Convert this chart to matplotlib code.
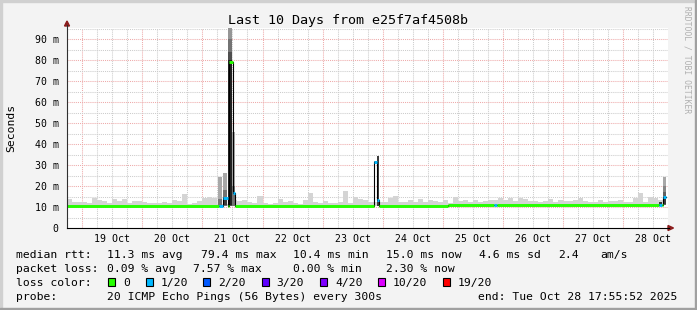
import matplotlib.pyplot as plt
from matplotlib.patches import Rectangle, Polygon
from matplotlib.lines import Line2D

W, H = 697, 310

plt.rcParams['font.family'] = 'DejaVu Sans Mono'

# time axis in hours from 19 Oct 00:00; 2 hour bins starting 18 Oct 18:00
bin_start = -6.0
bin_hours = 2.0
t_begin, t_end = -6.07, 233.93
data_end = 233.0

day_labels = ['19 Oct', '20 Oct', '21 Oct', '22 Oct', '23 Oct',
              '24 Oct', '25 Oct', '26 Oct', '27 Oct', '28 Oct']

# upper edge of the light smoke per bin (ms)
smoke_top = [
    13.8, 12.5, 12.5, 12.5, 11.7, 14.5, 13.3, 13.0, 12.0, 13.6,
    13.0, 13.6, 11.7, 13.0, 13.0, 12.5, 12.0, 11.7, 12.0, 12.3,
    11.7, 13.3, 13.0, 16.2, 11.4, 12.0, 12.8, 14.1, 14.9, 14.1,
    11.5, 11.5, 11.5, 13.3, 12.9, 13.3, 12.5, 11.7, 15.2, 11.7,
    11.4, 12.1, 13.6, 12.5, 12.9, 12.0, 11.4, 13.3, 16.8, 12.5,
    11.7, 12.9, 11.7, 12.1, 12.5, 17.8, 11.7, 14.9, 13.6, 13.3,
    12.5, 12.5, 12.5, 12.2, 14.1, 15.2, 12.5, 12.2, 13.3, 12.5,
    13.6, 12.5, 13.3, 13.0, 12.5, 13.3, 11.9, 14.9, 13.0, 13.3,
    12.5, 13.3, 12.5, 13.0, 13.3, 13.3, 14.5, 13.3, 14.5, 13.0,
    14.1, 13.8, 12.8, 12.8, 12.2, 12.8, 13.8, 12.5, 13.3, 12.8,
    12.8, 13.5, 14.1, 12.8, 12.5, 12.2, 13.3, 12.2, 12.8, 13.0,
    13.3, 12.5, 12.2, 14.3, 16.5, 12.5, 14.9, 14.1, 13.3, 13.0,
]

# median rtt per bin (ms)
median_ms = [
    10.6, 10.6, 10.6, 10.6, 10.6, 10.6, 10.6, 10.6, 10.6, 10.6,
    10.6, 10.6, 10.6, 10.6, 10.6, 10.6, 10.6, 10.6, 10.6, 10.6,
    10.6, 10.6, 10.6, 10.6, 10.6, 10.6, 10.6, 10.6, 10.6, 10.6,
    10.6, 10.6, 10.6, 10.6, 10.6, 10.6, 10.6, 10.6, 10.6, 10.6,
    10.6, 10.6, 10.6, 10.6, 10.6, 10.6, 10.6, 10.6, 10.6, 10.6,
    10.6, 10.6, 10.6, 10.6, 10.6, 10.6, 10.6, 10.6, 10.6, 10.6,
    10.6, 10.6, 10.6, 10.6, 10.6, 10.6, 10.6, 10.6, 10.6, 10.6,
    10.6, 10.6, 10.6, 10.6, 10.6, 10.6, 11.1, 11.1, 11.1, 11.1,
    11.1, 11.1, 11.1, 11.1, 11.1, 11.1, 11.1, 11.1, 11.1, 11.1,
    11.1, 11.1, 11.1, 11.1, 11.1, 11.1, 11.1, 11.1, 11.1, 11.1,
    11.1, 11.1, 11.1, 11.1, 11.1, 11.1, 11.1, 11.1, 11.1, 11.1,
    11.1, 11.1, 11.1, 11.1, 11.1, 11.1, 11.1, 11.1, 11.1, 11.1,
]

# short periods with spikes / loss (hours, ms, loss level index)
event_t0 = [54.4, 56.2, 58.4, 60.0, 116.4, 117.6, 164.4, 230.4, 231.8]
event_t1 = [56.0, 58.0, 60.0, 61.0, 117.6, 118.6, 165.6, 231.6, 233.0]
event_med = [10.5, 14.4, 79.4, 16.6, 31.6, 13.3, 11.1, 11.2, 14.9]
event_loss = [1, 1, 0, 1, 1, 1, 1, 1, 1]

# smoke layers of the events: event index, low, high, pings inside
layer_event = [0, 0, 1, 1, 1, 2, 2, 2, 2, 2, 3, 3, 4, 5, 7, 8, 8, 8, 8]
layer_lo = [10.3, 10.3, 10.3, 10.5, 10.8, 10.5, 14.0, 10.5, 10.5, 10.8,
            10.5, 10.5, 31.2, 10.5, 11.0, 11.0, 11.0, 11.2, 11.5]
layer_hi = [24.4, 14.0, 26.0, 18.0, 15.0, 100.0, 79.4, 90.0, 84.0, 80.0,
            46.0, 20.0, 32.0, 34.3, 12.5, 24.4, 20.0, 17.0, 15.0]
layer_pings = [4, 10, 4, 10, 16, 6, 8, 10, 14, 19,
               4, 10, 10, 16, 16, 4, 8, 12, 16]

loss_colors = ['#26ff00', '#00b8ff', '#0059ff', '#5e00ff',
               '#7e00ff', '#dd00ff', '#ff0000']
loss_labels = ['0', '1/20', '2/20', '3/20', '4/20', '10/20', '19/20']


def fx(x):
    return x / W


def fy(y):
    return 1 - y / H


fig = plt.figure(figsize=(W / 100, H / 100), dpi=100, facecolor='#f3f3f3')
ax = fig.add_axes([fx(67), fy(228), 601 / W, 200 / H])
ax.set_facecolor('white')
ax.set_xlim(t_begin, t_end)
ax.set_ylim(0, 95.4)
for s in ax.spines.values():
    s.set_visible(False)

# grid
dot = (0, (1, 1))
for h in range(-6, 234, 6):
    if h % 24 == 0:
        ax.axvline(h, color='#eeaaaa', lw=0.75, ls=dot, zorder=1)
    else:
        ax.axvline(h, color='#cccccc', lw=0.75, ls=dot, zorder=1)
for v in range(5, 100, 5):
    if v % 10 == 0:
        ax.axhline(v, color='#eeaaaa', lw=0.75, ls=dot, zorder=1)
    else:
        ax.axhline(v, color='#cccccc', lw=0.75, ls=dot, zorder=1)

# background smoke
starts = [bin_start + bin_hours * i for i in range(len(smoke_top))]
widths = [min(bin_hours, data_end - s) for s in starts]
ax.bar(starts, [t - m for t, m in zip(smoke_top, median_ms)], bottom=median_ms,
       width=widths, align='edge', color='#d4d4d4', linewidth=0, zorder=2)

# event smoke
for e, lo, hi, p in zip(layer_event, layer_lo, layer_hi, layer_pings):
    g = 0.8 - 0.7 * p / 20
    ax.bar(event_t0[e], hi - lo, bottom=lo, width=event_t1[e] - event_t0[e],
           align='edge', color=(g, g, g), linewidth=0, zorder=3)

# median line, built from bins with events overriding
step = 0.1
runs = []
t = t_begin
while t < data_end - 1e-9:
    tm = t + step / 2
    val, loss = None, 0
    for a, b, m, l in zip(event_t0, event_t1, event_med, event_loss):
        if a <= tm < b:
            val, loss = m, l
    if val is None:
        i = min(int((tm - bin_start) // bin_hours), len(median_ms) - 1)
        val = median_ms[i]
    t1 = min(t + step, data_end)
    if runs and runs[-1][2] == val and runs[-1][3] == loss:
        runs[-1][1] = t1
    else:
        runs.append([t, t1, val, loss])
    t = t1

xs, ys = [], []
for a, b, m, l in runs:
    xs += [a, b]
    ys += [m, m]
ax.plot(xs, ys, color='black', lw=0.8, zorder=4)
for a, b, m, l in runs:
    ax.plot([a, b], [m, m], color=loss_colors[l], lw=2.1,
            solid_capstyle='butt', zorder=5)

# ticks
ax.set_xticks([12 + 24 * k for k in range(len(day_labels))])
ax.set_xticklabels(day_labels)
ax.set_yticks(range(0, 100, 10))
ax.set_yticklabels(['0'] + ['%d m' % v for v in range(10, 100, 10)])
ax.tick_params(length=0, labelsize=7.1, pad=4)
ax.tick_params(axis='y', pad=6)

# axes with arrows
ax_col = '#303030'
arrow_col = '#8b1c1c'
fig.add_artist(Line2D([fx(67), fx(67)], [fy(228), fy(25)], color=ax_col, lw=0.8))
fig.add_artist(Line2D([fx(67), fx(669)], [fy(228), fy(228)], color='black', lw=0.8))
fig.add_artist(Polygon([[fx(64.5), fy(26)], [fx(69.5), fy(26)], [fx(67), fy(21)]],
                       closed=True, color=arrow_col, transform=fig.transFigure))
fig.add_artist(Polygon([[fx(668), fy(225.5)], [fx(668), fy(230.5)], [fx(673.5), fy(228)]],
                       closed=True, color=arrow_col, transform=fig.transFigure))

# titles
fig.text(fx(347.5), fy(24), 'Last 10 Days from e25f7af4508b', ha='center',
         va='baseline', fontsize=9.6)
fig.text(fx(11), fy(127.5), 'Seconds', rotation=90, ha='center', va='center',
         fontsize=8.2)
fig.text(fx(686.5), fy(60), 'RRDTOOL / TOBI OETIKER', rotation=270, ha='center',
         va='center', fontsize=5.8, color='#b0b0b0')

# legend
fs = 8.2
rows = [
    (258.3, [(16, 'median rtt:'), (107.3, '11.3 ms avg'), (200.7, '79.4 ms max'),
             (293.3, '10.4 ms min'), (386, '15.0 ms now'), (479.3, '4.6 ms sd'),
             (558.3, '2.4'), (600, 'am/s')]),
    (272.3, [(16, 'packet loss:'), (107.3, '0.09 % avg'), (193.3, '7.57 % max'),
             (293.3, '0.00 % min'), (386, '2.30 % now')]),
    (285.7, [(16, 'loss color:')]),
    (300, [(16, 'probe:'), (107.3, '20 ICMP Echo Pings (56 Bytes) every 300s'),
           (478.3, 'end: Tue Oct 28 17:55:52 2025')]),
]
for y, items in rows:
    for x, s in items:
        fig.text(fx(x), fy(y), s, ha='left', va='baseline', fontsize=fs)

box_x = [108.3, 145.7, 203.3, 261.7, 320, 377.7, 442.7]
for bx, c, lab in zip(box_x, loss_colors, loss_labels):
    fig.add_artist(Rectangle((fx(bx), fy(286)), 7 / W, 8 / H, facecolor=c,
                             edgecolor='black', lw=0.8, transform=fig.transFigure))
    fig.text(fx(bx + 15), fy(285.7), lab, ha='left', va='baseline', fontsize=fs)

# frame shading
fig.add_artist(Rectangle((0, fy(2)), 1, 2 / H, color='#d0d0d0', transform=fig.transFigure))
fig.add_artist(Rectangle((0, 0), 2 / W, 1, color='#d0d0d0', transform=fig.transFigure))
fig.add_artist(Rectangle((0, 0), 1, 2 / H, color='#a0a0a0', transform=fig.transFigure))
fig.add_artist(Rectangle((fx(695), 0), 2 / W, 1, color='#a0a0a0', transform=fig.transFigure))

fig.savefig('out.png', dpi=100, facecolor=fig.get_facecolor())
